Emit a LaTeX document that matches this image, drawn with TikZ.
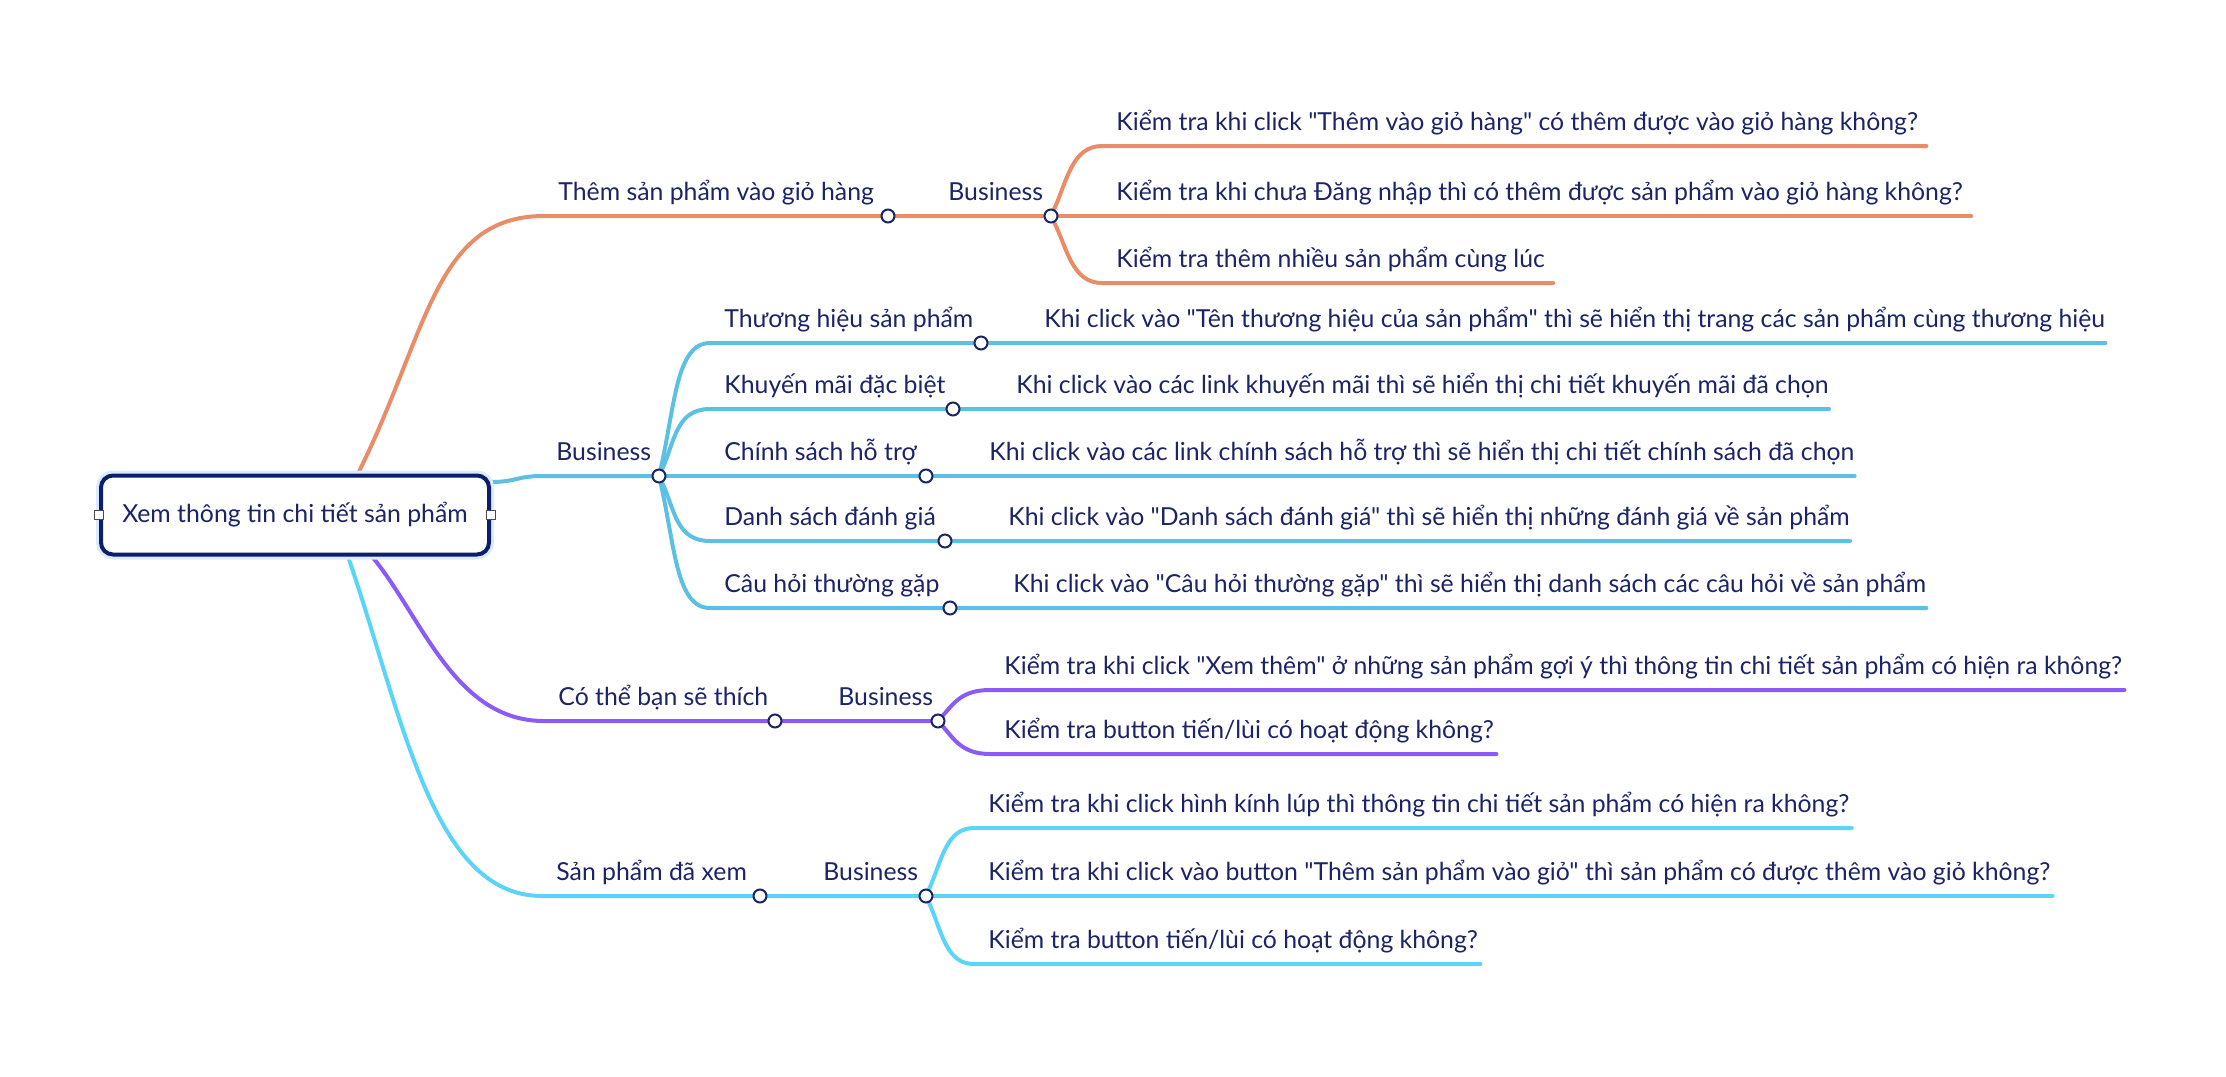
\documentclass[tikz,border=0pt]{standalone}
\usepackage{fontspec}
\setmainfont{Lato}[Ligatures=TeXOff]
\usepackage{xcolor}
\usetikzlibrary{positioning, calc, backgrounds}
\definecolor{navy}{HTML}{1A2466}
\definecolor{rootline}{HTML}{0B1D6B}
\definecolor{glow}{HTML}{DCEBFB}
\definecolor{orangeA}{HTML}{E98D68}
\definecolor{blueB}{HTML}{5CC0E2}
\definecolor{purpleC}{HTML}{8A5CF5}
\definecolor{cyanD}{HTML}{5BD5F7}

\begin{document}
\begin{tikzpicture}[x=0.5pt, y=-0.5pt, font=\fontsize{12.4}{14}\selectfont,
  br/.style={line width=2pt, line cap=round},
  topic/.style={anchor=south west, inner xsep=7pt, inner ysep=7.5pt, text depth=0pt, text=navy},
  dot/.style={circle, draw=navy, fill=white, line width=1pt, inner sep=0pt, minimum size=6.5pt},
  root/.style={draw=rootline, line width=2pt, rounded corners=6pt, fill=white, text=navy,
               minimum width=194pt, minimum height=39.5pt, preaction={draw=glow, line width=5pt}},
  handle/.style={rectangle, draw=black!70, fill=white, line width=0.6pt, minimum size=4.5pt, inner sep=0pt},
]
  \useasboundingbox (0,0) rectangle (2226,1076);

  \node[root] (root) at (295,515) {Xem thông tin chi tiết sản phẩm};
  \node[handle] (hl) at (root.west) {};
  \node[handle] (hr) at (root.east) {};

  % them vao gio hang
  \node[topic] (ta) at (544,216) {Thêm sản phẩm vào giỏ hàng};
  \node[dot] (a1) at (888,216) {};
  \node[topic] (tab) at (934,216) {Business};
  \node[dot] (a2) at (1051,216) {};
  \node[topic] (ka1) at (1102,146) {Kiểm tra khi click "Thêm vào giỏ hàng" có thêm được vào giỏ hàng không?};
  \node[topic] (ka2) at (1102,216) {Kiểm tra khi chưa Đăng nhập thì có thêm được sản phẩm vào giỏ hàng không?};
  \node[topic] (ka3) at (1102,283) {Kiểm tra thêm nhiều sản phẩm cùng lúc};
  \begin{pgfonlayer}{background}
    \draw[br, orangeA] ($(root.north)+(63,0)$) .. controls +(70,-140) and +(-110,0) .. (ta.south west) -- (a1) -- (a2);
    \draw[br, orangeA] (a2) .. controls +(16,-35) and +(-30,0) .. (ka1.south west) -- ([xshift=-3pt]ka1.south east);
    \draw[br, orangeA] (a2) -- ([xshift=-3pt]ka2.south east);
    \draw[br, orangeA] (a2) .. controls +(16,32) and +(-30,0) .. (ka3.south west) -- ([xshift=-3pt]ka3.south east);
  \end{pgfonlayer}

  % business
  \node[topic] (tbb) at (542,476) {Business};
  \node[dot] (b0) at (659,476) {};
  \begin{pgfonlayer}{background}
    \draw[br, blueB] ($(root.east)+(0,-33)$) .. controls +(25,0) and +(-25,0) .. (tbb.south west) -- (b0);
  \end{pgfonlayer}
  \foreach \xn/\yy/\xd/\cy/\xtop/\xleaf in {%
    1/343/981/-70/{Thương hiệu sản phẩm}/{Khi click vào "Tên thương hiệu của sản phẩm" thì sẽ hiển thị trang các sản phẩm cùng thương hiệu},%
    2/409/953/-35/{Khuyến mãi đặc biệt}/{Khi click vào các link khuyến mãi thì sẽ hiển thị chi tiết khuyến mãi đã chọn},%
    3/476/926/0/{Chính sách hỗ trợ}/{Khi click vào các link chính sách hỗ trợ thì sẽ hiển thị chi tiết chính sách đã chọn},%
    4/541/945/34/{Danh sách đánh giá}/{Khi click vào "Danh sách đánh giá" thì sẽ hiển thị những đánh giá về sản phẩm},%
    5/608/950/70/{Câu hỏi thường gặp}/{Khi click vào "Câu hỏi thường gặp" thì sẽ hiển thị danh sách các câu hỏi về sản phẩm}%
  } {
    \node[topic] (tb\xn) at (710,\yy) {\xtop};
    \node[dot] (b\xn) at (\xd,\yy) {};
    \node[topic] (kb\xn) at ($(b\xn)+(49,0)$) {\xleaf};
    \begin{pgfonlayer}{background}
      \draw[br, blueB] (b0) .. controls +(16,\cy) and +(-34,0) .. (tb\xn.south west) -- (b\xn) -- ([xshift=-7pt]kb\xn.south east);
    \end{pgfonlayer}
  }

  % co the ban se thich
  \node[topic] (tc) at (544,721) {Có thể bạn sẽ thích};
  \node[dot] (c1) at (775,721) {};
  \node[topic] (tcb) at (824,721) {Business};
  \node[dot] (c2) at (938,721) {};
  \node[topic] (kc1) at (990,690) {Kiểm tra khi click "Xem thêm" ở những sản phẩm gợi ý thì thông tin chi tiết sản phẩm có hiện ra không?};
  \node[topic] (kc2) at (990,754) {Kiểm tra button tiến/lùi có hoạt động không?};
  \begin{pgfonlayer}{background}
    \draw[br, purpleC] ($(root.south)+(77,0)$) .. controls +(50,60) and +(-90,0) .. (tc.south west) -- (c1) -- (c2);
    \draw[br, purpleC] (c2) .. controls +(16,-18) and +(-28,0) .. (kc1.south west) -- ([xshift=-6pt]kc1.south east);
    \draw[br, purpleC] (c2) .. controls +(16,18) and +(-28,0) .. (kc2.south west) -- ([xshift=-6pt]kc2.south east);
  \end{pgfonlayer}

  % san pham da xem
  \node[topic] (td) at (542,896) {Sản phẩm đã xem};
  \node[dot] (d1) at (760,896) {};
  \node[topic] (tdb) at (809,896) {Business};
  \node[dot] (d2) at (926,896) {};
  \node[topic] (kd1) at (974,828) {Kiểm tra khi click hình kính lúp thì thông tin chi tiết sản phẩm có hiện ra không?};
  \node[topic] (kd2) at (974,896) {Kiểm tra khi click vào button "Thêm sản phẩm vào giỏ" thì sản phẩm có được thêm vào giỏ không?};
  \node[topic] (kd3) at (974,964) {Kiểm tra button tiến/lùi có hoạt động không?};
  \begin{pgfonlayer}{background}
    \draw[br, cyanD] ($(root.south)+(53,0)$) .. controls +(55,160) and +(-110,0) .. (td.south west) -- (d1) -- (d2);
    \draw[br, cyanD] (d2) .. controls +(16,-36) and +(-28,0) .. (kd1.south west) -- ([xshift=-6pt]kd1.south east);
    \draw[br, cyanD] (d2) -- ([xshift=-6pt]kd2.south east);
    \draw[br, cyanD] (d2) .. controls +(16,36) and +(-28,0) .. (kd3.south west) -- ([xshift=-6pt]kd3.south east);
  \end{pgfonlayer}
\end{tikzpicture}
\end{document}
